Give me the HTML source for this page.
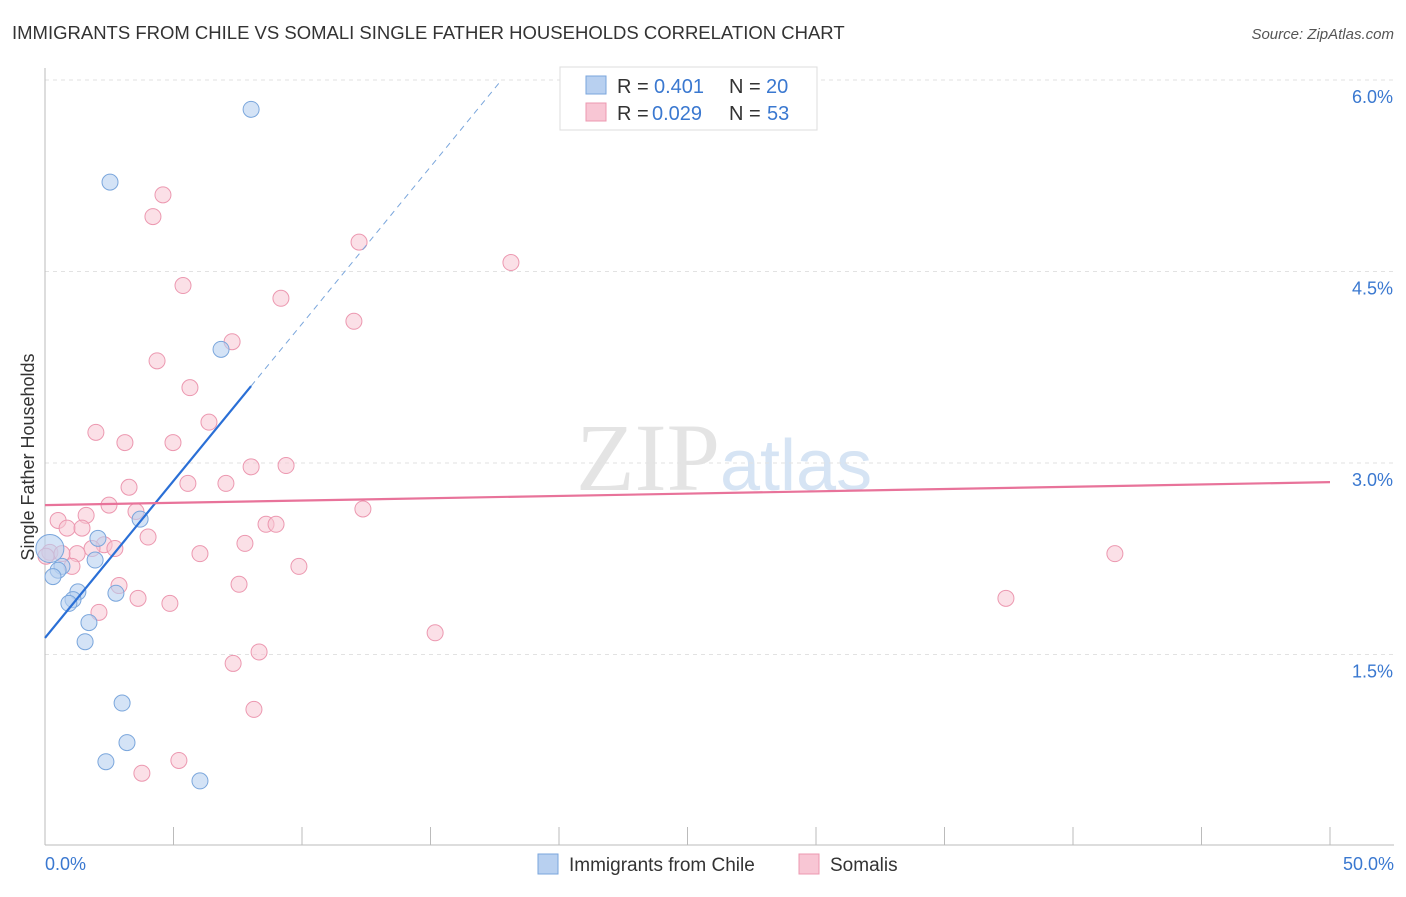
<!DOCTYPE html>
<html><head><meta charset="utf-8"><style>
body{margin:0;background:#fff;font-family:"Liberation Sans",sans-serif;}
</style></head><body>
<svg id="chart" width="1406" height="892" xmlns="http://www.w3.org/2000/svg" font-family="Liberation Sans, sans-serif">
<text x="12" y="39" font-size="18.5" fill="#333">IMMIGRANTS FROM CHILE VS SOMALI SINGLE FATHER HOUSEHOLDS CORRELATION CHART</text>
<text x="1394" y="39" font-size="15" fill="#555" text-anchor="end" font-style="italic">Source: ZipAtlas.com</text>
<text x="720" y="490" font-size="96" fill="#e4e4e4" text-anchor="end" font-family="Liberation Serif, serif">ZIP</text>
<text x="720" y="490" font-size="72" fill="#d6e4f4">atlas</text>
<text transform="translate(34,457) rotate(-90)" font-size="18" fill="#333" text-anchor="middle">Single Father Households</text>
<g id="grid"></g><g id="axes"></g><g id="marks"></g>
<g>
<rect x="560" y="67" width="257" height="63" fill="#fff" stroke="#ddd"/>
<rect x="586" y="76" width="20" height="18" fill="#b8d0f0" stroke="#7aa6dc"/>
<text x="617" y="93" font-size="20" fill="#333">R =</text>
<text x="654" y="93" font-size="20" fill="#3a78d0">0.401</text>
<text x="729" y="93" font-size="20" fill="#333">N =</text>
<text x="766" y="93" font-size="20" fill="#3a78d0">20</text>
<rect x="586" y="103" width="20" height="18" fill="#f8c6d4" stroke="#ec98b0"/>
<text x="617" y="120" font-size="20" fill="#333">R =</text>
<text x="652" y="120" font-size="20" fill="#3a78d0">0.029</text>
<text x="729" y="120" font-size="20" fill="#333">N =</text>
<text x="767" y="120" font-size="20" fill="#3a78d0">53</text>
</g>
<g>
<rect x="538" y="854" width="20" height="20" fill="#b8d0f0" stroke="#7aa6dc"/>
<text x="569" y="871" font-size="19" fill="#333">Immigrants from Chile</text>
<rect x="799" y="854" width="20" height="20" fill="#f8c6d4" stroke="#ec98b0"/>
<text x="830" y="871" font-size="19" fill="#333">Somalis</text>
</g>
</svg>
<script>
const blueX=[8.02,2.53,6.85,3.70,2.06,1.95,0.66,0.51,0.31,0.19,1.28,2.76,1.09,0.93,1.71,1.56,3.00,3.19,2.37,6.03];
const blueY=[5.77,5.20,3.89,2.56,2.41,2.24,2.19,2.16,2.11,2.33,1.99,1.98,1.93,1.90,1.75,1.60,1.12,0.81,0.66,0.51];
const pinkX=[4.59,4.20,12.22,18.13,5.37,9.18,12.02,7.28,4.36,5.64,6.38,1.98,3.11,4.98,8.02,9.38,3.27,5.56,7.04,12.37,2.49,3.54,1.60,0.51,0.86,1.44,8.60,8.99,4.01,7.78,2.30,2.72,1.83,0.19,1.25,6.03,41.63,1.05,9.88,2.88,7.55,3.62,4.86,37.39,2.10,15.18,8.33,7.32,8.13,5.21,3.77,0.66,0.04];
const pinkY=[5.10,4.93,4.73,4.57,4.39,4.29,4.11,3.95,3.80,3.59,3.32,3.24,3.16,3.16,2.97,2.98,2.81,2.84,2.84,2.64,2.67,2.62,2.59,2.55,2.49,2.49,2.52,2.52,2.42,2.37,2.36,2.33,2.33,2.30,2.29,2.29,2.29,2.19,2.19,2.04,2.05,1.94,1.90,1.94,1.83,1.67,1.52,1.43,1.07,0.67,0.57,2.29,2.27];
const yTicks=[1.5,3.0,4.5,6.0];
const yTickLabels=["1.5%","3.0%","4.5%","6.0%"];
const blueFit=[1.63,0.246];
const pinkFit=[2.67,0.0036];
const NS="http://www.w3.org/2000/svg";
const xs=v=>45+v/50*1285, ys=v=>846-v*127.67;
function mk(t,a,p){const e=document.createElementNS(NS,t);for(const k in a)e.setAttribute(k,a[k]);document.getElementById(p).appendChild(e);return e;}
yTicks.forEach((t,i)=>{
 const l=mk('line',{x1:45,x2:1394,y1:ys(t),y2:ys(t),stroke:'#e2e2e2','stroke-dasharray':'4,4'},'grid');
 
 
 const tx=mk('text',{x:1393,y:ys(t)+23,'font-size':18,fill:'#3a78d0','text-anchor':'end'},'axes');tx.textContent=yTickLabels[i];
 
 
});
let ax=mk('line',{x1:45,x2:1394,y1:845,y2:845,stroke:'#bbb'},'axes');


let ay=mk('line',{x1:45,x2:45,y1:68,y2:845,stroke:'#bbb'},'axes');


for(let i=0;i<=10;i++){const t=mk('line',{x1:xs(i*5),x2:xs(i*5),y1:827,y2:845,stroke:'#bbb'},'axes');
 
 }
[["0.0%",45,'start'],["50.0%",1394,'end']].forEach(a=>{const t=mk('text',{x:a[1],y:870,'font-size':18,fill:'#3a78d0','text-anchor':a[2]},'axes');t.textContent=a[0];
 
 });
pinkX.forEach((x,i)=>{const c=mk('circle',{cx:xs(x),cy:ys(pinkY[i]),r:8,fill:'#f8c6d4','fill-opacity':0.55,stroke:'#ec98b0'},'marks');
 
 });
blueX.forEach((x,i)=>{const c=mk('circle',{cx:xs(x),cy:ys(blueY[i]),r:i==9?14:8,fill:'#b8d0f0','fill-opacity':0.6,stroke:'#7aa6dc'},'marks');
 
 });
const bmax=Math.max(...blueX), bend=(6.0-blueFit[0])/blueFit[1];
let b1=mk('line',{x1:xs(0),y1:ys(blueFit[0]),x2:xs(bmax),y2:ys(blueFit[0]+blueFit[1]*bmax),stroke:'#2a6fd6','stroke-width':2.2},'marks');


let b2=mk('line',{x1:xs(bmax),y1:ys(blueFit[0]+blueFit[1]*bmax),x2:xs(bend),y2:ys(6.0),stroke:'#7aa6dc','stroke-width':1,'stroke-dasharray':'6,5'},'marks');


let p1=mk('line',{x1:xs(0),y1:ys(pinkFit[0]),x2:xs(50),y2:ys(pinkFit[0]+pinkFit[1]*50),stroke:'#e8739a','stroke-width':2.2},'marks');


</script>
</body></html>
